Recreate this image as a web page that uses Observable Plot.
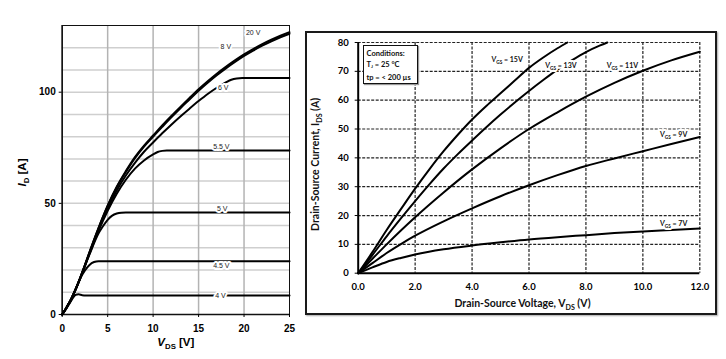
<!DOCTYPE html>
<html><head><meta charset="utf-8">
<script src="https://cdn.jsdelivr.net/npm/d3@7"></script>
<script src="https://cdn.jsdelivr.net/npm/@observablehq/plot@0.6"></script>
<style>
body{margin:0;background:#fff;width:726px;height:359px;overflow:hidden;position:relative}
#left{position:absolute;left:0;top:0;width:300px;height:359px}
#right{position:absolute;left:300px;top:0;width:426px;height:359px}
#frame{position:absolute;left:305px;top:30.5px;width:407.5px;height:280.5px;border:2px solid #1a1a1a;box-shadow:1px 1px 1.5px #aaa}
#cond{position:absolute;left:362.5px;top:45px;width:55px;height:39px;box-sizing:border-box;border:1.5px solid #111;background:#fff;font:bold 7.5px Lato,sans-serif;line-height:11px;padding:1.5px 0 0 3px;color:#111;box-shadow:1px 1px 1px #999;white-space:nowrap}
#cond sub{font-size:60%;vertical-align:-1px}
</style></head>
<body>
<div id="frame"></div>
<div id="left"></div>
<div id="right"></div>
<div id="cond">Conditions:<br>T<sub>J</sub> = 25 °C<br>tp = &lt; 200 µs</div>
<script>
// ---------- Left chart data (I_D vs V_DS, per V_GS) ----------
const leftVgs20 = [[0,0],[0.5,3.3],[1,7],[1.5,11.6],[2,16.7],[2.5,22.2],[3,28],[4,39],[5,49],[6,57.5],[7,64.5],[8,70.8],[9,76],[10,80.5],[11,85],[12,89.3],[13,93.4],[14,97.4],[15,101.3],[16,104.9],[17,108.3],[18,111.4],[19,114.3],[20,117],[21,119.4],[22,121.6],[23,123.6],[24,125.4],[25,127]];
const leftVgs8  = [[0,0],[0.5,3.3],[1,7],[1.5,11.6],[2,16.7],[2.5,22.2],[3,28],[4,38.9],[5,48.8],[6,57.2],[7,64.1],[8,70.3],[9,75.5],[10,80],[11,84.4],[12,88.7],[13,92.8],[14,96.7],[15,100.6],[16,104.2],[17,107.6],[18,110.7],[19,113.6],[20,116.3],[21,118.7],[22,120.9],[23,122.9],[24,124.7],[25,126.3]];
const leftVgs6  = [[0,0],[0.5,3.3],[1,7],[1.5,11.5],[2,16.6],[3,27.6],[4,38.3],[5,47.8],[6,55.8],[7,62.5],[8,68.2],[9,73.2],[10,77.4],[11,81.5],[12,85.4],[13,89.1],[14,92.6],[15,96],[16,99.2],[17,102],[18,104.4],[18.6,105.6],[19.2,106.2],[19.8,106.4],[25,106.4]];
const leftVgs55 = [[0,0],[0.5,3.3],[1,7],[1.5,11.5],[2,16.5],[3,27.3],[4,37.6],[5,46.6],[6,54.3],[7,60.6],[8,65.6],[9,69.3],[10,72],[10.5,73.1],[11,73.6],[11.5,73.8],[25,73.8]];
const leftVgs5  = [[0,0],[0.5,3.3],[1,7],[1.5,11.5],[2,16.5],[3,27],[4,36.5],[4.5,39.8],[5,42.6],[5.5,44.5],[6,45.4],[6.5,45.8],[7,45.9],[25,45.9]];
const leftVgs45 = [[0,0],[0.5,3.3],[1,7],[1.5,11.4],[2,16.3],[2.5,19.8],[3,22.3],[3.5,23.6],[4,24],[25,24]];
const leftVgs4  = [[0,0],[0.5,3],[0.9,5.6],[1.2,7.6],[1.5,8.9],[1.8,9.1],[2.2,8.7],[2.6,8.6],[25,8.6]];
const leftSeries = [["20 V",leftVgs20],["8 V",leftVgs8],["6 V",leftVgs6],["5.5 V",leftVgs55],["5 V",leftVgs5],["4.5 V",leftVgs45],["4 V",leftVgs4]];
const leftLabels = ["20 V","8 V","6 V","5.5 V","5 V","4.5 V","4 V"];
const leftLabelX = [21,18,17.7,17.5,17.6,17.5,17.4];
const leftLabelY = [126.7,120.3,102,75.3,47.4,22,8.6];
const leftXTicks = [0,5,10,15,20,25];
const leftYTicks = [0,50,100];
const leftHGrid = [10,20,30,40,50,60,70,80,90,100,110,120];
const leftVGrid = [5,10,15,20];

// ---------- Right chart data (I_DS vs V_DS, per V_GS) ----------
const rightVgs15 = [[0,0],[0.5,7.3],[1,15],[1.5,22.2],[2,29.3],[2.5,36],[3,42.3],[3.5,48],[4,53.3],[4.5,58],[5,62.4],[5.5,66.8],[6,71.2],[6.5,74.8],[7,78],[7.35,80]];
const rightVgs13 = [[0,0],[0.5,6.3],[1,12.8],[1.5,19],[2,25],[2.5,30.8],[3,36.3],[3.5,41.3],[4,46],[4.5,50.6],[5,55],[5.5,59.2],[6,63.2],[6.5,67],[7,70.6],[7.5,73.8],[8,76.7],[8.5,79],[8.75,80]];
const rightVgs11 = [[0,0],[0.5,5],[1,10],[1.5,14.8],[2,19.4],[3,28],[4,36],[5,43.3],[6,50],[7,55.8],[8,61.2],[9,66],[10,70.2],[11,73.8],[12,76.8]];
const rightVgs9  = [[0,0],[0.5,3.5],[1,7],[1.5,10.1],[2,13],[3,18],[4,22.5],[5,26.7],[6,30.5],[7,34],[8,37.2],[9,39.8],[10,42.3],[11,44.8],[12,47.2]];
const rightVgs7  = [[0,0],[0.5,2],[1,3.9],[1.5,5.3],[2,6.5],[3,8.3],[4,9.6],[5,10.7],[6,11.7],[7,12.5],[8,13.2],[9,13.9],[10,14.5],[11,15],[12,15.5]];
const rightSeries = [["15",rightVgs15],["13",rightVgs13],["11",rightVgs11],["9",rightVgs9],["7",rightVgs7]];
const rightLabels = ["V_{GS} = 15V","V_{GS} = 13V","V_{GS} = 11V","V_{GS} = 9V","V_{GS} = 7V"];
const rightLabelX = [5.23,7.12,9.28,11.08,11.08];
const rightLabelY = [74,72,72,48,17.3];
const rightXTicks = [0,2,4,6,8,10,12];
const rightYTicks = [0,10,20,30,40,50,60,70,80];

const flat = series => series.flatMap(([name, pts]) => pts.map(([x,y]) => ({name, x, y})));

function subify(svg){
  d3.select(svg).selectAll("text").each(function(){
    const t = this.textContent;
    if (!/_\{|\*/.test(t)) return;
    const sel = d3.select(this); sel.text(null);
    let shifted = false;
    t.split(/(_\{[^}]*\}|\*[^*]*\*)/).forEach(p => {
      if (!p) return;
      if (p.startsWith("_{")) {
        sel.append("tspan").attr("dy","0.42em").attr("font-size","68%").text(p.slice(2,-1));
        shifted = true;
      } else {
        const italic = p.startsWith("*");
        const ts = sel.append("tspan").text(italic ? p.slice(1,-1) : p);
        if (italic) ts.attr("font-style","italic");
        if (shifted) { ts.attr("dy","-0.29em"); shifted = false; }
      }
    });
  });
}

// ---------- Left plot ----------
const leftData = flat(leftSeries);
const leftPlot = Plot.plot({
  width: 300, height: 359,
  marginLeft: 61.7, marginRight: 11, marginTop: 25, marginBottom: 45,
  style: {background: "transparent", fontFamily: "'Liberation Sans', Arial, sans-serif", overflow: "visible"},
  x: {domain: [0,25]},
  y: {domain: [0,130]},
  marks: [
    Plot.ruleY(leftHGrid, {stroke: "#cfcfcf", strokeWidth: 1.5}),
    Plot.ruleX(leftVGrid, {stroke: "#b3b3b3", strokeWidth: 1.5}),
    Plot.frame({stroke: "#111", strokeWidth: 1}),
    Plot.ruleX([0], {stroke: "#111", strokeWidth: 1.5}),
    Plot.ruleY([0], {stroke: "#111", strokeWidth: 1.5}),
    Plot.line(leftData, {x: "x", y: "y", z: "name", stroke: "#000", strokeWidth: 2, curve: "monotone-x"}),
    Plot.text(leftLabels, {x: (d,i) => leftLabelX[i], y: (d,i) => leftLabelY[i], text: d => d, fontSize: 7, fill: "#222", stroke: "white", strokeWidth: 4}),
    Plot.axisX(leftXTicks, {tickSize: 3, tickPadding: 7, fontSize: 10, fontWeight: "bold", label: null}),
    Plot.axisY(leftYTicks, {tickSize: 3, tickPadding: 3.5, fontSize: 10, fontWeight: "bold", label: null}),
    Plot.text(["*I*_{D} [A]"], {frameAnchor: "left", textAnchor: "middle", lineAnchor: "middle", rotate: -90, dx: -39.7, dy: 2.5, fontSize: 11.5, fontWeight: "bold", fill: "#000"}),
    Plot.text(["*V*_{DS} [V]"], {frameAnchor: "bottom", textAnchor: "middle", lineAnchor: "middle", dy: 28, fontSize: 11.5, fontWeight: "bold", fill: "#000"})
  ]
});
subify(leftPlot);
document.getElementById("left").append(leftPlot);

// ---------- Right plot ----------
const rightData = flat(rightSeries);
const dash = {stroke: "#222", strokeWidth: 1.2, strokeDasharray: "3,1.5"};
const rightPlot = Plot.plot({
  width: 426, height: 359,
  marginLeft: 57.7, marginRight: 26.7, marginTop: 42, marginBottom: 86.3,
  style: {background: "transparent", fontFamily: "Lato, 'Open Sans', sans-serif", overflow: "visible"},
  x: {domain: [0,12]},
  y: {domain: [0,80]},
  marks: [
    Plot.ruleX(rightXTicks.filter(d => d > 0), dash),
    Plot.ruleY(rightYTicks.filter(d => d > 0), dash),
    Plot.ruleX([0], {stroke: "#000", strokeWidth: 2}),
    Plot.ruleY([0], {stroke: "#000", strokeWidth: 2}),
    Plot.line(rightData, {x: "x", y: "y", z: "name", stroke: "#000", strokeWidth: 2, curve: "monotone-x"}),
    Plot.text(rightLabels, {x: (d,i) => rightLabelX[i], y: (d,i) => rightLabelY[i], text: d => d, fontSize: 7, fontWeight: "bold", fill: "#111", stroke: "white", strokeWidth: 4}),
    Plot.axisX(rightXTicks, {tickSize: 0, tickPadding: 10, tickFormat: d3.format(".1f"), fontSize: 9.5, fontWeight: "bold", label: null}),
    Plot.axisY(rightYTicks, {tickSize: 3, tickPadding: 6.5, fontSize: 9.5, fontWeight: "bold", label: null}),
    Plot.text(["Drain-Source Current, I_{DS} (A)"], {frameAnchor: "left", textAnchor: "middle", lineAnchor: "middle", rotate: -90, dx: -42.7, dy: 6.5, fontSize: 10.5, fontWeight: "bold", fill: "#111"}),
    Plot.text(["Drain-Source Voltage, V_{DS} (V)"], {frameAnchor: "bottom", textAnchor: "middle", lineAnchor: "middle", dx: -6.5, dy: 30.3, fontSize: 10.5, fontWeight: "bold", fill: "#111"})
  ]
});
subify(rightPlot);
document.getElementById("right").append(rightPlot);
</script>
</body></html>
